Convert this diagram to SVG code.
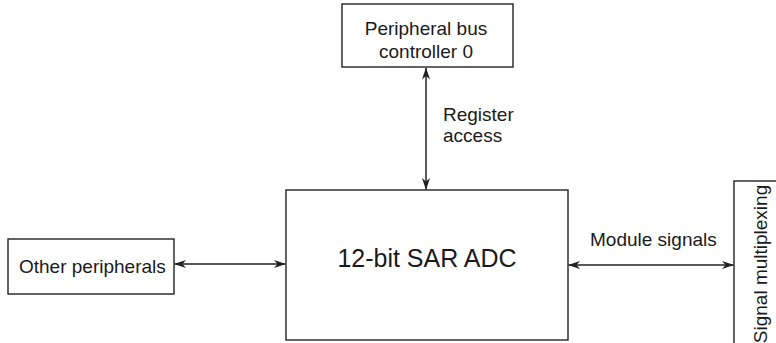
<svg xmlns="http://www.w3.org/2000/svg" width="776" height="343" viewBox="0 0 776 343">
<defs>
<style>
.box{fill:#fff;stroke:#222;stroke-width:1.4}
.t{font-family:"Liberation Sans",Arial,sans-serif;font-size:19px;fill:#1a1a1a}
.big{font-size:25px}
.c{fill:none;stroke:#222;stroke-width:1.5}
</style>
<marker id="ah" viewBox="0 0 12 8" refX="11.5" refY="4" markerWidth="12" markerHeight="8" markerUnits="userSpaceOnUse" orient="auto-start-reverse">
<path d="M0,0 L12,4 L0,8 L3.5,4 z" fill="#222"/>
</marker>
</defs>
<rect width="776" height="343" fill="#fff"/>
<g id="connectors">
<line class="c" x1="426" y1="68" x2="426" y2="189.5" marker-start="url(#ah)" marker-end="url(#ah)"/>
<line class="c" x1="174.5" y1="264" x2="285.5" y2="264" marker-start="url(#ah)" marker-end="url(#ah)"/>
<line class="c" x1="568.5" y1="265" x2="733.5" y2="265" marker-start="url(#ah)" marker-end="url(#ah)"/>
<text class="t" x="443" y="121">Register</text>
<text class="t" x="443" y="142">access</text>
<text class="t" x="590" y="246">Module signals</text>
</g>
<g id="pbc0">
<rect class="box" x="342" y="4" width="171" height="63"/>
<text class="t" x="426" y="35" text-anchor="middle">Peripheral bus</text>
<text class="t" x="426" y="58" text-anchor="middle">controller 0</text>
</g>
<g id="adc">
<rect class="box" x="286" y="190" width="282" height="150"/>
<text class="t big" x="427" y="267" text-anchor="middle">12-bit SAR ADC</text>
</g>
<g id="other">
<rect class="box" x="8" y="239" width="166" height="55"/>
<text class="t" x="19" y="273">Other peripherals</text>
</g>
<g id="sigmux">
<rect class="box" x="734" y="181" width="60" height="170"/>
<text class="t" transform="translate(767,264) rotate(-90)" text-anchor="middle">Signal multiplexing</text>
</g>
</svg>
